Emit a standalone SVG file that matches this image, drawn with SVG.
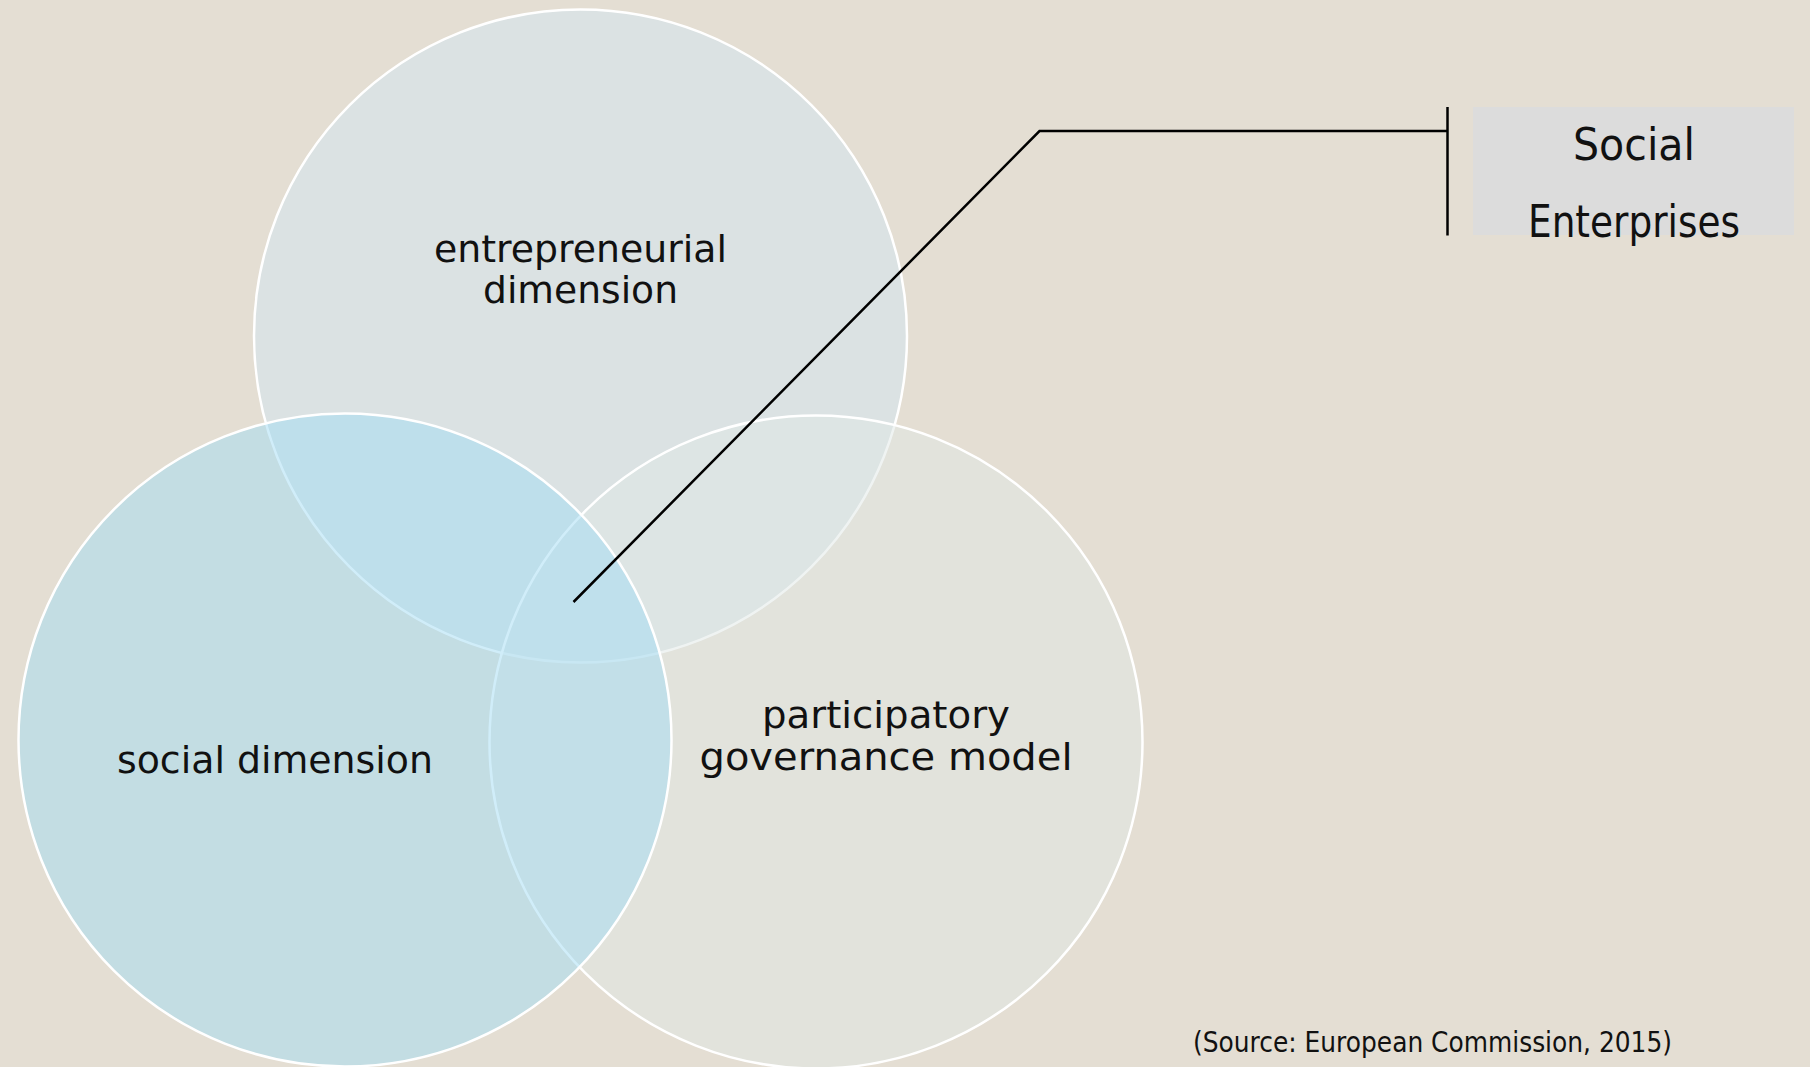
<svg xmlns="http://www.w3.org/2000/svg" width="1810" height="1067" viewBox="0 0 1810 1067">
  <style>
    .circ { stroke: #ffffff; stroke-width: 2.5; fill-opacity: 0.5; }
    .lbl { font-family: "DejaVu Sans", "Liberation Sans", sans-serif; fill: #111111; text-anchor: middle; }
    .conn { fill: none; stroke: #000000; stroke-width: 2.5; }
  </style>
  <rect x="0" y="0" width="1810" height="1067" fill="#e4ded3"/>
  <g id="node-entrepreneurial">
    <circle class="circ" cx="580.5" cy="336" r="326.5" fill="#d2e6f3"/>
  </g>
  <g id="node-participatory">
    <circle class="circ" cx="816" cy="742" r="326.5" fill="#e0e8e5"/>
  </g>
  <g id="node-social">
    <circle class="circ" cx="345" cy="740" r="326.5" fill="#a2dcf3"/>
  </g>
  <g id="labels">
    <text class="lbl" x="580.5" y="262" font-size="38" textLength="293" lengthAdjust="spacingAndGlyphs">entrepreneurial</text>
    <text class="lbl" x="580.5" y="303" font-size="38" textLength="195" lengthAdjust="spacingAndGlyphs">dimension</text>
    <text class="lbl" x="275" y="773" font-size="38" textLength="316" lengthAdjust="spacingAndGlyphs">social dimension</text>
    <text class="lbl" x="886" y="728" font-size="38" textLength="248" lengthAdjust="spacingAndGlyphs">participatory</text>
    <text class="lbl" x="886" y="770" font-size="38" textLength="373" lengthAdjust="spacingAndGlyphs">governance model</text>
  </g>
  <g id="connectors">
    <polyline class="conn" points="573.5,602 1039.5,131 1447.5,131"/>
    <line class="conn" x1="1447.5" y1="107" x2="1447.5" y2="235.5"/>
  </g>
  <g id="node-social-enterprises">
    <rect x="1473" y="107" width="321" height="128" fill="#dcdcdc"/>
    <text class="lbl" x="1634" y="160" font-size="45" textLength="122" lengthAdjust="spacingAndGlyphs">Social</text>
    <text class="lbl" x="1634" y="237" font-size="45" textLength="212" lengthAdjust="spacingAndGlyphs">Enterprises</text>
  </g>
  <text class="lbl" x="1432.5" y="1052" font-size="28" textLength="479" lengthAdjust="spacingAndGlyphs">(Source: European Commission, 2015)</text>
</svg>
